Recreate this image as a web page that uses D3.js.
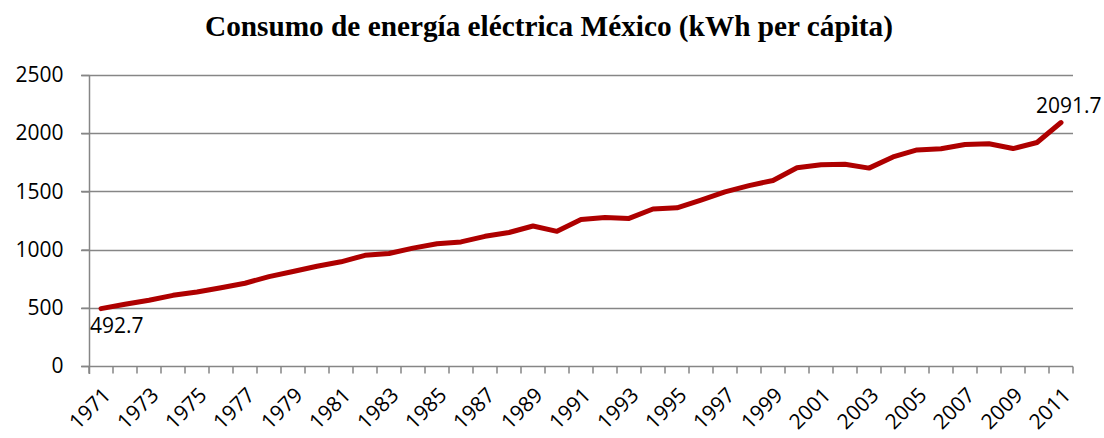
<!DOCTYPE html>
<html>
<head>
<meta charset="utf-8">
<script src="https://cdn.jsdelivr.net/npm/d3@7"></script>
<style>
  body { margin: 0; background: #fff; }
  svg { display: block; }
</style>
</head>
<body>
<div id="chart"></div>
<script>
const title = 'Consumo de energía eléctrica México (kWh per cápita)';
const years = d3.range(1971, 2012);
const consumo = [
  492.7, 531, 565, 607, 636, 672, 711, 768, 812, 857,
  895, 951, 966, 1013, 1050, 1066, 1114, 1147, 1203, 1157,
  1258, 1276, 1268, 1349, 1359, 1425, 1496, 1550, 1594, 1703,
  1729, 1734, 1700, 1796, 1856, 1866, 1903, 1909, 1868, 1920,
  2091.7
];
const yTicks = [0, 500, 1000, 1500, 2000, 2500];

const width = 1104, height = 438;
const margin = {top: 75, right: 31, bottom: 72, left: 89};

const svg = d3.select('#chart').append('svg')
  .attr('width', width)
  .attr('height', height);

const x = d3.scaleBand()
  .domain(years)
  .range([margin.left, width - margin.right]);

const y = d3.scaleLinear()
  .domain([0, 2500])
  .range([height - margin.bottom, margin.top]);

const gridColor = '#868686';
const labelFont = '"Open Sans", "Noto Sans", sans-serif';

svg.append('text')
  .attr('x', 549)
  .attr('y', 36)
  .attr('text-anchor', 'middle')
  .attr('textLength', 688)
  .attr('lengthAdjust', 'spacingAndGlyphs')
  .style('font-family', '"Liberation Serif", "Times New Roman", serif')
  .style('font-weight', 'bold')
  .style('font-size', '29px')
  .text(title);

// horizontal gridlines
svg.append('g')
  .selectAll('line')
  .data(yTicks)
  .join('line')
  .attr('x1', margin.left - 8)
  .attr('x2', width - margin.right)
  .attr('y1', d => Math.round(y(d)) + 0.5)
  .attr('y2', d => Math.round(y(d)) + 0.5)
  .attr('stroke', gridColor)
  .attr('stroke-width', 1.5);

// y axis
const yAxis = svg.append('g')
  .attr('transform', `translate(${margin.left + 0.5},0)`)
  .call(d3.axisLeft(y).tickValues(yTicks).tickFormat(d3.format('d')).tickSize(8).tickPadding(18));
yAxis.select('.domain').attr('stroke', gridColor).attr('stroke-width', 1.5)
  .attr('d', `M0,${y(2500)}V${y(0) + 8}`);
yAxis.selectAll('.tick line').attr('stroke', gridColor).attr('stroke-width', 1.5);
yAxis.selectAll('text')
  .style('font-family', labelFont)
  .style('font-size', '21px')
  .attr('fill', '#000');

// x axis: ticks between categories
const xAxisY = Math.round(y(0)) + 0.5;
const xg = svg.append('g');
xg.selectAll('line')
  .data(years.concat([2012]))
  .join('line')
  .attr('x1', d => d === 2012 ? x.range()[1] : x(d))
  .attr('x2', d => d === 2012 ? x.range()[1] : x(d))
  .attr('y1', xAxisY)
  .attr('y2', xAxisY + 7)
  .attr('stroke', gridColor)
  .attr('stroke-width', 1.5);

xg.selectAll('text')
  .data(years.filter((d, i) => i % 2 === 0))
  .join('text')
  .attr('transform', d => `translate(${x(d) + x.bandwidth() / 2 + 11},${xAxisY + 30}) rotate(-45)`)
  .attr('text-anchor', 'end')
  .style('font-family', labelFont)
  .style('font-size', '21px')
  .attr('fill', '#000')
  .text(d => d);

// line
const line = d3.line()
  .x((d, i) => x(years[i]) + x.bandwidth() / 2)
  .y(d => y(d));

svg.append('path')
  .datum(consumo)
  .attr('d', line)
  .attr('fill', 'none')
  .attr('stroke', '#AE0000')
  .attr('stroke-width', 5)
  .attr('stroke-linejoin', 'round')
  .attr('stroke-linecap', 'round');

// data labels for first and last point
const first = 0, last = consumo.length - 1;
svg.append('text')
  .attr('x', x(years[first]) + x.bandwidth() / 2 - 11)
  .attr('y', y(consumo[first]) + 24)
  .style('font-family', labelFont)
  .style('font-size', '21px')
  .text(consumo[first].toFixed(1));

svg.append('text')
  .attr('x', x(years[last]) + x.bandwidth() / 2 - 25)
  .attr('y', y(consumo[last]) - 10)
  .style('font-family', labelFont)
  .style('font-size', '21px')
  .text(consumo[last].toFixed(1));
</script>
</body>
</html>
